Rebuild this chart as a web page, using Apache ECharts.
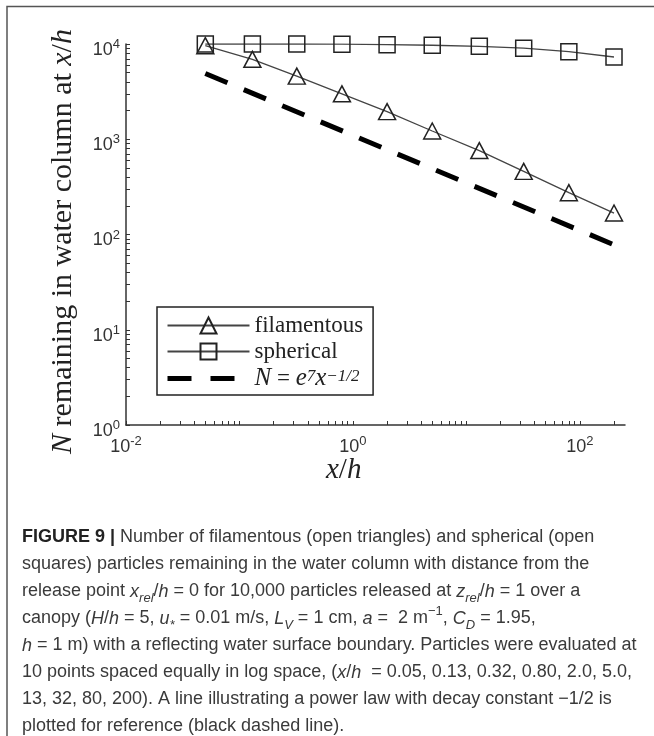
<!DOCTYPE html>
<html>
<head>
<meta charset="utf-8">
<script src="https://cdn.jsdelivr.net/npm/echarts@6.0.0/dist/echarts.min.js"></script>
<style>
html,body{margin:0;padding:0;background:#fff;}
#chart{width:654px;height:736px;}
</style>
</head>
<body>
<div id="chart"></div>
<script>
// ---- data ----
var xValues = [0.05, 0.13, 0.32, 0.80, 2.0, 5.0, 13, 32, 80, 200];
var filamentous = [9600, 6900, 4600, 3000, 1950, 1220, 760, 460, 275, 168];
var spherical = [10000, 10000, 10000, 9950, 9850, 9700, 9450, 9050, 8300, 7300];
var refX = [0.05, 200];
var refN = [4900, 78];
var seriesNames = ['filamentous', 'spherical', 'reference'];
var xLabelValues = [0.01, 1, 100];
var yLabelValues = [1, 10, 100, 1000, 10000];
var xTickValues = [0.01,0.02,0.03,0.04,0.05,0.06,0.07,0.08,0.09,
  0.1,0.2,0.3,0.4,0.5,0.6,0.7,0.8,0.9,
  1,2,3,4,5,6,7,8,9,
  10,20,30,40,50,60,70,80,90,
  100,200];
var yTickValues = [1,2,3,4,5,6,7,8,9,
  10,20,30,40,50,60,70,80,90,
  100,200,300,400,500,600,700,800,900,
  1000,2000,3000,4000,5000,6000,7000,8000,9000,
  10000];
var captionLines = [
  '{b|FIGURE 9 |} Number of filamentous (open triangles) and spherical (open',
  'squares) particles remaining in the water column with distance from the',
  'release point {i|x}{sub|rel}/{i|h} = 0 for 10,000 particles released at {i|z}{sub|rel}/{i|h} = 1 over a',
  'canopy ({i|H}/{i|h} = 5, {i|u}{sub|*} = 0.01 m/s, {i|L}{sub|V} = 1 cm, {i|a} =  2 m{sup|\u22121}, {i|C}{sub|D} = 1.95,',
  '{i|h} = 1 m) with a reflecting water surface boundary. Particles were evaluated at',
  '10 points spaced equally in log space, ({i|x}/{i|h}  = 0.05, 0.13, 0.32, 0.80, 2.0, 5.0,',
  '13, 32, 80, 200). A line illustrating a power law with decay constant \u22121/2 is',
  'plotted for reference (black dashed line).'
];

function pairs(xs, ys) {
  return xs.map(function (x, i) { return [x, ys[i]]; });
}
function powLabel(v) {
  var e = Math.round(Math.log10(v));
  return '{b|10}{s|' + e + '}';
}
var tickRich = {
  b: {fontFamily: 'Liberation Sans', fontSize: 18, color: '#333', lineHeight: 24},
  s: {fontFamily: 'Liberation Sans', fontSize: 13, color: '#333', lineHeight: 4, verticalAlign: 'top'}
};
var serif = 'Liberation Serif';
var axisCol = '#333';

var chart = echarts.init(document.getElementById('chart'), null, {renderer: 'canvas'});
var option = {
  backgroundColor: '#fff',
  animation: false,
  grid: {left: 126, right: 29, top: 44, bottom: 311, containLabel: false, outerBoundsMode: 'none'},
  xAxis: {
    type: 'log', logBase: 10, min: 0.01, max: 250,
    axisLine: {lineStyle: {color: axisCol, width: 1.5}},
    axisTick: {show: true, inside: true, length: 4, customValues: xTickValues, lineStyle: {color: axisCol, width: 1}},
    minorTick: {show: false},
    splitLine: {show: false},
    axisLabel: {customValues: xLabelValues, formatter: powLabel, rich: tickRich, margin: 10}
  },
  yAxis: {
    type: 'log', logBase: 10, min: 1, max: 10000,
    axisLine: {lineStyle: {color: axisCol, width: 1.5}},
    axisTick: {show: true, inside: true, length: 4, customValues: yTickValues, lineStyle: {color: axisCol, width: 1}},
    minorTick: {show: false},
    splitLine: {show: false},
    axisLabel: {customValues: yLabelValues, formatter: powLabel, rich: tickRich, margin: 6, padding: [12, 0, 0, 0]},
    name: '{i|N} remaining in water column at {i|x}/{i|h}',
    nameLocation: 'middle',
    nameGap: 48,
    nameRotate: 90,
    nameTextStyle: {
      fontFamily: serif, fontSize: 30, color: '#222', padding: [0, 14, 0, 0],
      rich: {i: {fontFamily: serif, fontStyle: 'italic', fontSize: 30, color: '#222'}}
    }
  },
  legend: {
    orient: 'vertical', left: 157, top: 307,
    padding: [7, 10, 4, 8],
    itemWidth: 82, itemHeight: 20, itemGap: 3,
    backgroundColor: '#fff', borderColor: '#222', borderWidth: 1.5,
    data: [
      {name: seriesNames[0]},
      {name: seriesNames[1]},
      {name: seriesNames[2], lineStyle: {type: [24, 19], width: 5, color: '#000'}, itemStyle: {opacity: 0}}
    ],
    formatter: function (n) {
      if (n === 'reference') return '{i|N} = {i|e}{sp|7}{i|x}{sp|\u22121/2}';
      return n;
    },
    textStyle: {
      fontFamily: serif, fontSize: 23, color: '#222', lineHeight: 20,
      rich: {
        i: {fontFamily: serif, fontStyle: 'italic', fontSize: 25, color: '#222', lineHeight: 20},
        sp: {fontFamily: serif, fontStyle: 'italic', fontSize: 17, color: '#222', lineHeight: 2, verticalAlign: 'top'}
      }
    }
  },
  series: [
    {
      name: seriesNames[0], type: 'line', data: pairs(xValues, filamentous),
      symbol: 'triangle', symbolSize: [17, 16],
      lineStyle: {color: '#444', width: 1.3},
      itemStyle: {color: 'rgba(255,255,255,0)', borderColor: '#222', borderWidth: 1.5},
      z: 3
    },
    {
      name: seriesNames[1], type: 'line', data: pairs(xValues, spherical),
      symbol: 'rect', symbolSize: 16,
      lineStyle: {color: '#444', width: 1.3},
      itemStyle: {color: 'rgba(255,255,255,0)', borderColor: '#222', borderWidth: 1.5},
      z: 3
    },
    {
      name: seriesNames[2], type: 'line', data: pairs(refX, refN),
      symbol: 'none',
      lineStyle: {color: '#000', width: 5, type: [24, 17.7]},
      z: 2
    }
  ],
  graphic: [
    {
      type: 'polyline', silent: true,
      shape: {points: [[7, 736], [7, 6.5], [654, 6.5]]},
      style: {stroke: '#555', lineWidth: 1.5, fill: null}
    },
    {
      type: 'text', left: 326, top: 456, silent: true,
      style: {
        text: '{i|x}/{i|h}',
        font: '29px "Liberation Serif"', fill: '#222',
        rich: {i: {fontFamily: serif, fontStyle: 'italic', fontSize: 29, fill: '#222'}}
      }
    },
    {
      type: 'text', left: 22, top: 524, silent: true,
      style: {
        text: captionLines.join('\n'),
        fontFamily: 'Liberation Sans', fontSize: 18, fill: '#3a3a3a', lineHeight: 27,
        rich: {
          b: {fontFamily: 'Liberation Sans', fontWeight: 'bold', fontSize: 18, fill: '#222', lineHeight: 27},
          i: {fontFamily: 'Liberation Sans', fontStyle: 'italic', fontSize: 18, fill: '#3a3a3a', lineHeight: 27},
          sub: {fontFamily: 'Liberation Sans', fontStyle: 'italic', fontSize: 13, fill: '#3a3a3a', lineHeight: 16, verticalAlign: 'bottom'},
          sup: {fontFamily: 'Liberation Sans', fontSize: 13, fill: '#3a3a3a', lineHeight: 16, verticalAlign: 'top'}
        }
      }
    }
  ]
};
chart.setOption(option);
</script>
</body>
</html>
